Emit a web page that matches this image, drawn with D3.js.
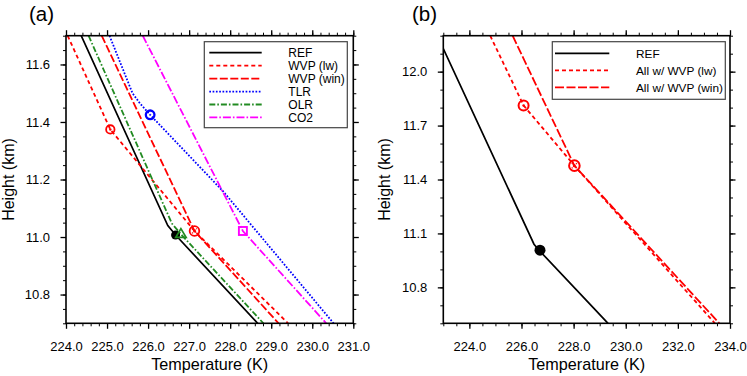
<!DOCTYPE html>
<html>
<head>
<meta charset="utf-8">
<script src="https://cdn.jsdelivr.net/npm/d3@7"></script>
<style>
  body { margin: 0; background: #fff; }
  svg { display: block; font-family: "Liberation Sans", Arial, Helvetica, sans-serif; }
</style>
</head>
<body>
<div id="chart"></div>
<script>
// REF profile (shared by both panels)
const refT = [222.77, 224.37, 226.48, 226.67, 228.67, 229.32];
const refH = [12.2, 11.7, 11.04, 11.007, 10.7, 10.6];

// panel (a) experiments
const wvpLwT = [224.04, 225.08, 227.13, 229.41];
const wvpLwH = [11.7, 11.374, 11.021, 10.7];
const wvpWinT = [224.87, 227.13, 229.18];
const wvpWinH = [11.7, 11.021, 10.7];
const tlrT = [225.06, 225.62, 225.80, 226.05, 227.84, 230.52];
const tlrH = [11.7, 11.5, 11.465, 11.425, 11.157, 10.7];
const olrT = [224.55, 226.58, 226.80, 228.81];
const olrH = [11.7, 11.047, 11.01, 10.7];
const co2T = [225.87, 228.31, 230.34];
const co2H = [11.7, 11.021, 10.7];

// panel (b) experiments
const allLwT = [224.80, 226.08, 228.03, 233.42];
const allLwH = [12.2, 11.812, 11.477, 10.6];
const allWinT = [225.66, 228.03, 233.59];
const allWinH = [12.2, 11.477, 10.6];

// tropopause markers [T, H]
const markA = {ref: [226.67, 11.007], olr: [226.80, 11.01], lw: [225.08, 11.374],
               win: [227.13, 11.021], tlr: [226.05, 11.425], co2: [228.31, 11.021]};
const markB = {ref: [226.71, 11.007], lw: [226.08, 11.812], win: [228.03, 11.477]};

const xTicksA = [224, 225, 226, 227, 228, 229, 230, 231];
const yTicksA = [10.8, 11.0, 11.2, 11.4, 11.6];
const xTicksB = [224, 226, 228, 230, 232, 234];
const yTicksB = [10.8, 11.1, 11.4, 11.7, 12.0];

const W = 747, H = 376;
const svg = d3.select("#chart").append("svg")
    .attr("width", W).attr("height", H);

const zip = (t, h) => t.map((v, i) => ({t: v, h: h[i]}));

function panel(opt) {
    const x = d3.scaleLinear().domain(opt.xDomain).range([opt.left, opt.right]);
    const y = d3.scaleLinear().domain(opt.yDomain).range([opt.bottom, opt.top]);
    const g = svg.append("g");

    const clipId = "clip" + opt.name;
    svg.append("clipPath").attr("id", clipId).append("rect")
        .attr("x", opt.left).attr("y", opt.top)
        .attr("width", opt.right - opt.left).attr("height", opt.bottom - opt.top);

    const minorX = d3.range(opt.xDomain[0], opt.xDomain[1] + 1e-6, opt.xMinor);
    const minorY = d3.range(opt.yDomain[0], opt.yDomain[1] + 1e-6, opt.yMinor);
    const fmt = d3.format(".1f");

    const axes = [
        {gen: d3.axisBottom(x), tr: `translate(0,${opt.bottom})`, major: opt.xTicks, minor: minorX, lab: true, pad: 12.5},
        {gen: d3.axisTop(x), tr: `translate(0,${opt.top})`, major: opt.xTicks, minor: minorX, lab: false, pad: 0},
        {gen: d3.axisLeft(y), tr: `translate(${opt.left},0)`, major: opt.yTicks, minor: minorY, lab: true, pad: 10.5},
        {gen: d3.axisRight(y), tr: `translate(${opt.right},0)`, major: opt.yTicks, minor: minorY, lab: false, pad: 0}
    ];
    axes.forEach(a => {
        // minor ticks
        const gm = g.append("g").attr("transform", a.tr)
            .call(a.gen.tickValues(a.minor).tickSize(3).tickSizeOuter(0).tickFormat(""));
        gm.select(".domain").remove();
        gm.selectAll("line").attr("stroke-width", 1);
        // major ticks
        const gM = g.append("g").attr("transform", a.tr)
            .call(a.gen.tickValues(a.major).tickSize(5.5).tickSizeOuter(0)
                .tickPadding(a.pad).tickFormat(a.lab ? fmt : ""));
        gM.select(".domain").remove();
        gM.selectAll("line").attr("stroke-width", 1.3);
        gM.selectAll("text").attr("font-size", 13).attr("fill", "#000")
            .attr("font-family", "Liberation Sans, Arial, sans-serif");
    });

    const line = d3.line().x(d => x(d.t)).y(d => y(d.h));
    const lines = g.append("g").attr("clip-path", `url(#${clipId})`);
    opt.series.forEach(s => {
        lines.append("path").datum(zip(s.t, s.h))
            .attr("fill", "none")
            .attr("stroke", s.color)
            .attr("stroke-width", s.width || 1.8)
            .attr("stroke-dasharray", s.dash || null)
            .attr("d", line);
    });

    // frame
    g.append("rect")
        .attr("x", opt.left).attr("y", opt.top)
        .attr("width", opt.right - opt.left).attr("height", opt.bottom - opt.top)
        .attr("fill", "none").attr("stroke", "#000").attr("stroke-width", 1.6);

    // markers
    const mg = g.append("g");
    opt.markers.forEach(m => {
        const cx = x(m.p[0]), cy = y(m.p[1]);
        if (m.type === "dot") {
            mg.append("circle").attr("cx", cx).attr("cy", cy).attr("r", m.r)
                .attr("fill", m.color);
        } else if (m.type === "circle" || m.type === "circdot" || m.type === "circx") {
            mg.append("circle").attr("cx", cx).attr("cy", cy).attr("r", m.r)
                .attr("fill", "none").attr("stroke", m.color).attr("stroke-width", m.sw || 1.8);
            if (m.type === "circdot") {
                mg.append("circle").attr("cx", cx).attr("cy", cy).attr("r", 1.2).attr("fill", m.color);
            }
            if (m.type === "circx") {
                const k = m.r * 0.5;
                mg.append("path")
                    .attr("d", `M${cx - k},${cy - k}L${cx + k},${cy + k}M${cx - k},${cy + k}L${cx + k},${cy - k}`)
                    .attr("stroke", m.color).attr("stroke-width", 1.3).attr("stroke-dasharray", "1.2,0.8");
            }
        } else if (m.type === "square") {
            mg.append("rect").attr("x", cx - m.r).attr("y", cy - m.r)
                .attr("width", 2 * m.r).attr("height", 2 * m.r)
                .attr("fill", "none").attr("stroke", m.color).attr("stroke-width", 1.9);
        } else if (m.type === "triangle") {
            const r = m.r;
            mg.append("path")
                .attr("d", `M${cx},${cy - r}L${cx + r * 0.95},${cy + r * 0.6}L${cx - r * 0.95},${cy + r * 0.6}Z`)
                .attr("fill", "none").attr("stroke", m.color).attr("stroke-width", 1.7);
        }
    });

    // legend
    const L = opt.legend;
    g.append("rect").attr("x", L.x0).attr("y", L.y0)
        .attr("width", L.x1 - L.x0).attr("height", L.y1 - L.y0)
        .attr("fill", "#fff").attr("stroke", "#444").attr("stroke-width", 1.2);
    opt.series.forEach((s, i) => {
        const ly = L.rowY + i * L.step;
        g.append("line").attr("x1", L.lx0).attr("x2", L.lx1).attr("y1", ly).attr("y2", ly)
            .attr("stroke", s.color).attr("stroke-width", s.width || 1.8)
            .attr("stroke-dasharray", s.dash || null);
        g.append("text").attr("x", L.tx).attr("y", ly + 4.3)
            .attr("font-size", L.fs).attr("fill", "#000").text(s.label);
    });

    // axis titles
    const cx = (opt.left + opt.right) / 2;
    g.append("text").attr("x", cx).attr("y", 370)
        .attr("text-anchor", "middle").attr("font-size", 16.2).text("Temperature (K)");
    g.append("text")
        .attr("transform", `translate(${opt.yTitleX},${(opt.top + opt.bottom) / 2}) rotate(-90)`)
        .attr("text-anchor", "middle").attr("font-size", 16).text("Height (km)");
    g.append("text").attr("x", opt.tagX).attr("y", 20.5)
        .attr("font-size", 20.5).text(opt.tag);
}

panel({
    name: "a", tag: "(a)", tagX: 29,
    left: 66, right: 353.3, top: 35.7, bottom: 323.3,
    xDomain: [224, 231], yDomain: [10.7, 11.7],
    xTicks: xTicksA, yTicks: yTicksA, xMinor: 0.2, yMinor: 0.05,
    yTitleX: 14,
    series: [
        {label: "REF", t: refT, h: refH, color: "#000", width: 1.7},
        {label: "WVP (lw)", t: wvpLwT, h: wvpLwH, color: "#ff0000", dash: "4,3"},
        {label: "WVP (win)", t: wvpWinT, h: wvpWinH, color: "#ff0000", dash: "8,2.5"},
        {label: "TLR", t: tlrT, h: tlrH, color: "#0000ff", dash: "1.7,1.6"},
        {label: "OLR", t: olrT, h: olrH, color: "#228b22", dash: "6,2,1.6,2"},
        {label: "CO2", t: co2T, h: co2H, color: "#ff00ff", dash: "8,2,1.6,2"}
    ],
    markers: [
        {type: "dot", p: markA.ref, r: 4.5, color: "#000"},
        {type: "triangle", p: markA.olr, r: 5.5, color: "#228b22"},
        {type: "circdot", p: markA.lw, r: 4.2, color: "#ff0000"},
        {type: "circx", p: markA.win, r: 4.8, color: "#ff0000"},
        {type: "circle", p: markA.tlr, r: 4.3, color: "#0000ff", sw: 2.3},
        {type: "square", p: markA.co2, r: 4, color: "#ff00ff"}
    ],
    legend: {x0: 204.3, x1: 347.3, y0: 41.7, y1: 127.7, lx0: 209.3, lx1: 261.7,
             tx: 288.3, rowY: 52.7, step: 12.95, fs: 12}
});

panel({
    name: "b", tag: "(b)", tagX: 412,
    left: 443.3, right: 730, top: 35.7, bottom: 323.3,
    xDomain: [223, 234], yDomain: [10.6, 12.2],
    xTicks: xTicksB, yTicks: yTicksB, xMinor: 0.5, yMinor: 0.1,
    yTitleX: 390,
    series: [
        {label: "REF", t: refT, h: refH, color: "#000", width: 1.7},
        {label: "All w/ WVP (lw)", t: allLwT, h: allLwH, color: "#ff0000", dash: "4,3"},
        {label: "All w/ WVP (win)", t: allWinT, h: allWinH, color: "#ff0000", dash: "9,2.5"}
    ],
    markers: [
        {type: "dot", p: markB.ref, r: 5.5, color: "#000"},
        {type: "circdot", p: markB.lw, r: 5, color: "#ff0000", sw: 2},
        {type: "circx", p: markB.win, r: 5.3, color: "#ff0000", sw: 2}
    ],
    legend: {x0: 552.3, x1: 725.3, y0: 41.7, y1: 99.3, lx0: 555, lx1: 609.3,
             tx: 636, rowY: 53.3, step: 17, fs: 11.8}
});
</script>
</body>
</html>
